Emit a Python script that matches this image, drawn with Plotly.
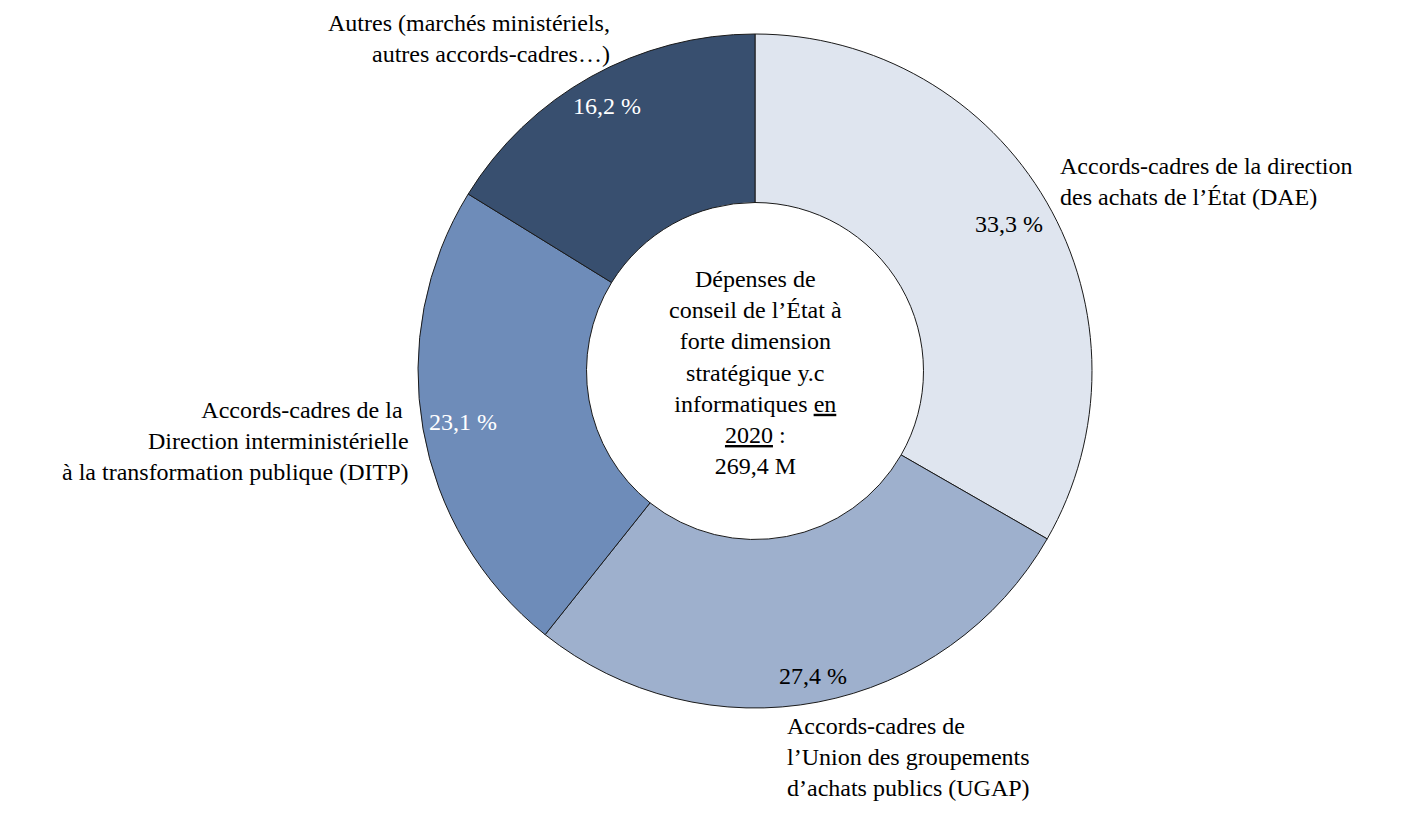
import math
import plotly.graph_objects as go

# ---- data ----
categories = [
    "Accords-cadres de la direction<br>des achats de l’État (DAE)",
    "Accords-cadres de<br>l’Union des groupements<br>d’achats publics (UGAP)",
    "Accords-cadres de la <br>Direction interministérielle<br>à la transformation publique (DITP)",
    "Autres (marchés ministériels,<br>autres accords-cadres…)",
]
shares = [33.3, 27.4, 23.1, 16.2]
center_text = ("Dépenses de<br>conseil de l’État à<br>forte dimension<br>stratégique y.c<br>"
               "informatiques <u>en</u><br><u>2020</u> :<br>269,4 M")

# ---- style ----
colors = ["#DFE5EF", "#9EB0CD", "#6E8CB9", "#384F6F"]
pct_colors = ["black", "black", "white", "white"]
pct_rfrac = [0.87, 0.92, 0.88, 0.90]
FONT = "Liberation Serif"
FS = 24
OFF = 8  # page body margin
W, H = 1409, 817
CX, CY, R = 755 - OFF, 371 - OFF, 337

# outer label placement (pixel anchor, xanchor, align)
label_pos = [
    (1058, 181, "left"),
    (785, 757, "left"),
    (411, 441, "right"),
    (612, 39, "right"),
]

fig = go.Figure()
fig.add_trace(go.Pie(
    values=shares,
    labels=[c.replace("<br>", " ") for c in categories],
    sort=False,
    direction="clockwise",
    rotation=0,
    hole=0.5,
    marker=dict(colors=colors, line=dict(color="#1a1a1a", width=1)),
    textinfo="none",
    hoverinfo="skip",
    showlegend=False,
    domain=dict(x=[(CX - R) / W, (CX + R) / W], y=[1 - (CY + R) / H, 1 - (CY - R) / H]),
))

ann = []
total = sum(shares)
cum = 0.0
for v, col, rf in zip(shares, pct_colors, pct_rfrac):
    mid = (cum + v / 2) / total * 2 * math.pi
    cum += v
    px = CX + R * rf * math.sin(mid)
    py = CY - R * rf * math.cos(mid)
    ann.append(dict(x=px / W, y=1 - py / H, xref="paper", yref="paper",
                    text=f"{v:.1f} %".replace(".", ","), showarrow=False,
                    font=dict(family=FONT, size=FS, color=col),
                    xanchor="center", yanchor="middle"))

for text, (px, py, side) in zip(categories, label_pos):
    ann.append(dict(x=(px - OFF) / W, y=1 - (py - OFF) / H, xref="paper", yref="paper",
                    text=text, showarrow=False, align=side, xanchor=side, yanchor="middle",
                    font=dict(family=FONT, size=FS, color="black")))

ann.append(dict(x=CX / W, y=1 - (373 - OFF) / H, xref="paper", yref="paper",
                text=center_text, showarrow=False, align="center",
                xanchor="center", yanchor="middle",
                font=dict(family=FONT, size=FS, color="black")))

fig.update_layout(
    width=W, height=H,
    margin=dict(l=0, r=0, t=0, b=0),
    paper_bgcolor="white", plot_bgcolor="white",
    annotations=ann,
)
fig.write_html("out.html")
